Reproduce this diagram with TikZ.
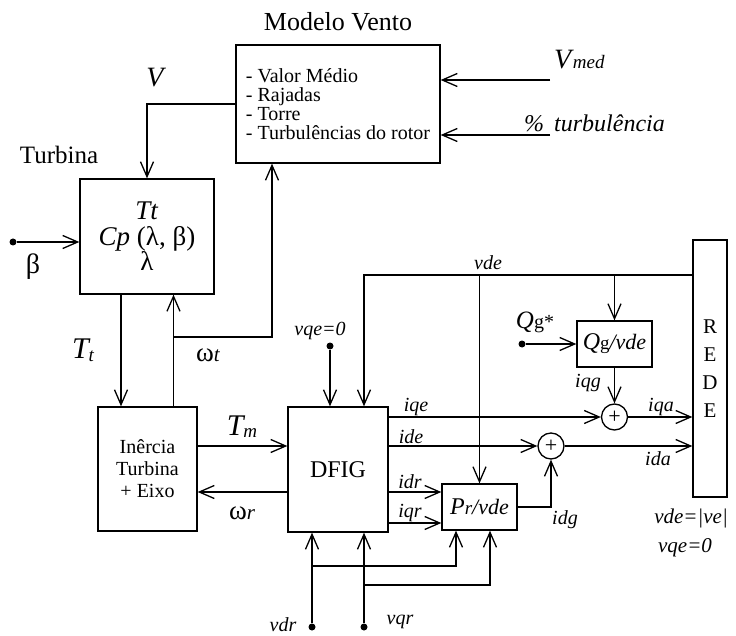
\documentclass[tikz,border=0pt]{standalone}
\usepackage{fontspec}
\setmainfont{Liberation Serif}
\usetikzlibrary{arrows.meta}
\newcommand{\fs}[1]{\fontsize{#1}{#1}\selectfont}
\begin{document}
\begin{tikzpicture}[x=1pt,y=-1pt,
  box/.style={draw, line width=1.3pt, inner sep=0pt, align=center},
  arr/.style={line width=1.3pt, -{Straight Barb[length=15pt,width=13pt]}},
  dot/.style={circle, fill, inner sep=0pt, minimum size=7pt},
  sum/.style={circle, draw, line width=1.3pt, minimum size=26pt, inner sep=0pt},
  lab/.style={inner sep=0pt, font=\fs{20}\itshape},
  big/.style={inner sep=0pt, font=\fs{25}}]
\useasboundingbox (0,0) rectangle (736,636);

% blocks
\node[box, minimum width=204pt, minimum height=118pt, font=\fs{20}, align=left, text depth=0pt] (mv) at (338,104)
  {- Valor Médio\\[-1pt]- Rajadas\\[-1pt]- Torre\\[-1pt]- Turbulências do rotor};
\node[big, font=\fs{26}] (mvt) at (338,22) {Modelo Vento};
\node[box, minimum width=134pt, minimum height=115pt, font=\fs{27}] (tb) at (147,236.5)
  {\textit{Tt}\\[-1pt]\textit{Cp} (λ, β)\\[-2pt]λ};
\node[big] (tbt) at (59,155) {Turbina};
\node[box, minimum width=99pt, minimum height=124pt, font=\fs{20}] (ie) at (147.5,469)
  {Inêrcia\\[2pt]Turbina\\[2pt]+ Eixo};
\node[box, minimum width=100pt, minimum height=125pt, font=\fs{24}] (dfig) at (338,469.5) {DFIG};
\node[box, minimum width=34pt, minimum height=257pt, font=\fs{21}] (rede) at (710,368.5)
  {R\\[7pt]E\\[7pt]D\\[7pt]E};
\node[box, minimum width=75pt, minimum height=46pt] (qg) at (614.5,344)
  {{\fs{24}\itshape Q}{\fs{19}g}{\fs{22}\itshape /vde}};
\node[box, minimum width=75pt, minimum height=46pt] (pr) at (479.5,507)
  {{\fs{24}\itshape P}{\fs{19}\itshape r}{\fs{22}\itshape /vde}};
\node[sum] (s1) at (614.5,417) {\fs{22}+};
\node[sum] (s2) at (551,446) {\fs{22}+};

% input points
\node[dot] (bdot) at (13,242) {};
\node[dot] (vqedot) at (330,346) {};
\node[dot] (qgdot) at (522,344) {};
\node[dot] (vdrdot) at (312,627) {};
\node[dot] (vqrdot) at (364,627) {};
\coordinate (vmedin) at (550,80);
\coordinate (turbin) at (550,135);
\coordinate (wtj) at (173.5,337);
\coordinate (ytm) at (0,446);
\coordinate (ywr) at (0,492);
\coordinate (yidr) at (0,492);
\coordinate (yiqr) at (0,523);
\coordinate (vdeL) at (364,275);
\coordinate (vdeP) at (479.5,275);
\coordinate (vdeQ) at (614.5,275);
\coordinate (vdrj) at (312,566);
\coordinate (vqrj) at (364,585);

% connectors
\draw[arr] (mv.west) -| (tb.north);
\draw[arr] (vmedin) -- (mv.east |- vmedin);
\draw[arr] (turbin) -- (mv.east |- turbin);
\draw[arr] (bdot) -- (tb.west |- bdot);
\draw[arr] ([xshift=-26pt]tb.south) -- ([xshift=-26pt]tb.south |- ie.north);
\draw[arr] ([xshift=26pt]ie.north) -- ([xshift=26pt]ie.north |- tb.south);
\draw[arr] (wtj) -| ([xshift=-66pt]mv.south);
\draw[arr] (ie.east |- ytm) -- (dfig.west |- ytm);
\draw[arr] (dfig.west |- ywr) -- (ie.east |- ywr);
\draw[arr] (vqedot) -- (vqedot |- dfig.north);
\draw[arr] (rede.west |- vdeL) -- (vdeL) -- (vdeL |- dfig.north);
\draw[arr] (vdeP) -- (pr.north);
\draw[arr] (vdeQ) -- (qg.north);
\draw[arr] (qgdot) -- (qg.west);
\draw[arr] (qg.south) -- (s1.north);
\draw[arr] (dfig.east |- s1) -- (s1.west);
\draw[arr] (s1.east) -- (rede.west |- s1);
\draw[arr] (dfig.east |- s2) -- (s2.west);
\draw[arr] (s2.east) -- (rede.west |- s2);
\draw[arr] (dfig.east |- yidr) -- (pr.west |- yidr);
\draw[arr] (dfig.east |- yiqr) -- (pr.west |- yiqr);
\draw[arr] (pr.east) -| (s2.south);
\draw[arr] (vdrdot) -- (vdrdot |- dfig.south);
\draw[arr] (vqrdot) -- (vqrdot |- dfig.south);
\draw[arr] (vdrj) -| ([xshift=-23.5pt]pr.south);
\draw[arr] (vqrj) -| ([xshift=10.5pt]pr.south);

% labels
\node[inner sep=0pt, font=\fs{28}\itshape] (lV) at (155,78) {V};
\node[inner sep=0pt, font=\fs{28}] (lbeta) at (33,267) {β};
\node[inner sep=0pt, anchor=west] (lVmed) at (554,60) {{\fs{28}\itshape V}\,{\fs{19}\itshape med}};
\node[inner sep=0pt, anchor=west, font=\fs{24}\itshape] (lturb) at (524,123) {\%\hspace{10pt}turbulência};
\node[inner sep=0pt] (lTt) at (83,350) {{\fs{30}\itshape T}\raisebox{-3pt}{\fs{19}\itshape t}};
\node[inner sep=0pt] (lwt) at (208,355) {{\fs{27}ω}{\fs{21}\itshape t}};
\node[inner sep=0pt] (lTm) at (242,427) {{\fs{30}\itshape T}\raisebox{-2pt}{\fs{19}\itshape m}};
\node[inner sep=0pt] (lwr) at (242,513) {{\fs{27}ω}{\fs{21}\itshape r}};
\node[lab, font=\fs{20}\itshape] (lvqe) at (320,331) {vqe=0};
\node[lab] (lvde) at (488,263) {vde};
\node[inner sep=0pt] (lqgs) at (535,322) {{\fs{25}\itshape Q}{\fs{20}g*}};
\node[lab] (liqg) at (588,383) {iqg};
\node[lab] (liqe) at (416,407) {iqe};
\node[lab] (liqa) at (661,407) {iqa};
\node[lab] (lide) at (411,437) {ide};
\node[lab] (lida) at (658,459) {ida};
\node[lab] (lidr) at (410,482) {idr};
\node[lab] (liqr) at (410,513) {iqr};
\node[lab] (lidg) at (565,520) {idg};
\node[lab] (lvdr) at (283,625) {vdr};
\node[lab] (lvqr) at (400,622) {vqr};
\node[lab, font=\fs{21}\itshape] (lvdeve) at (691,518) {vde=|ve|};
\node[lab, font=\fs{21}\itshape] (lvqe2) at (685,548) {vqe=0};
\end{tikzpicture}
\end{document}
